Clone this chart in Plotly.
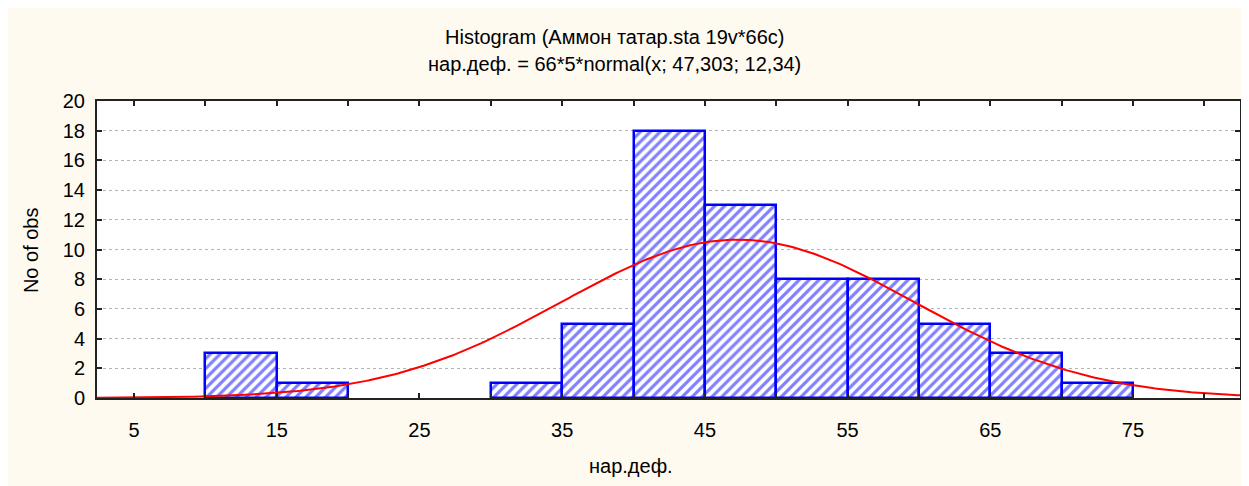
import numpy as np
import plotly.graph_objects as go

# Histogram data (bin centers, width 5)
bin_centers = [12.5, 17.5, 22.5, 27.5, 32.5, 37.5, 42.5, 47.5, 52.5, 57.5, 62.5, 67.5, 72.5]
counts = [3, 1, 0, 0, 1, 5, 18, 13, 8, 8, 5, 3, 1]

# Normal fit parameters from the title: 66*5*normal(x; 47.303; 12.34)
n_obs = 66
bin_width = 5
mu = 47.303
sigma = 12.34

x_tick_vals = [5, 10, 15, 20, 25, 30, 35, 40, 45, 50, 55, 60, 65, 70, 75, 80]
x_tick_text = ["5", "", "15", "", "25", "", "35", "", "45", "", "55", "", "65", "", "75", ""]
y_tick_vals = [0, 2, 4, 6, 8, 10, 12, 14, 16, 18, 20]

x_range = [2.4, 82.5]

xc = np.linspace(x_range[0], x_range[1], 400)
yc = n_obs * bin_width * np.exp(-0.5 * ((xc - mu) / sigma) ** 2) / (sigma * np.sqrt(2 * np.pi))

# empty bins draw nothing
bar_x = [c for c, n in zip(bin_centers, counts) if n > 0]
bar_y = [n for n in counts if n > 0]

FONT = "Liberation Sans, Arial, sans-serif"
OFF = 8  # page body margin
W, H = 1249 - OFF, 486 - OFF
ML, MR, MT, MB = 97 - OFF, 7, 101 - OFF, 88
PW = W - ML - MR
PH = H - MT - MB

# helpers converting page pixels to paper coords
def px_x(px):
    return (px - OFF - ML) / PW

def px_y(py):
    return (OFF + H - MB - py) / PH

fig = go.Figure()
fig.add_trace(go.Bar(
    x=bar_x, y=bar_y, width=bin_width,
    marker=dict(
        color="white",
        line=dict(color="#0000ff", width=2.5),
        pattern=dict(shape="/", fgcolor="#0000ff", bgcolor="white", size=7, solidity=0.45),
    ),
    showlegend=False, hoverinfo="x+y",
))
fig.add_trace(go.Scatter(
    x=xc, y=yc, mode="lines",
    line=dict(color="#ff0000", width=2),
    showlegend=False, hoverinfo="skip",
))

fig.update_layout(
    width=W, height=H,
    margin=dict(l=ML, r=MR, t=MT, b=MB),
    paper_bgcolor="#fefaf0",
    plot_bgcolor="white",
    bargap=0,
    font=dict(family=FONT, color="black", size=20),
    xaxis=dict(
        range=x_range, tickvals=x_tick_vals, ticktext=x_tick_text,
        ticks="inside", ticklen=5, tickwidth=2, tickcolor="#222",
        showline=True, linecolor="#222", linewidth=2, mirror="ticks",
        showgrid=False, zeroline=False, ticklabelstandoff=13,
        tickfont=dict(size=20),
    ),
    yaxis=dict(
        range=[0, 20], tickvals=y_tick_vals,
        ticks="inside", ticklen=5, tickwidth=2, tickcolor="#222",
        showline=True, linecolor="#222", linewidth=2, mirror="ticks",
        showgrid=True, gridcolor="#b4b4b4", gridwidth=1, griddash="dot",
        zeroline=False, ticklabelstandoff=6,
        tickfont=dict(size=20),
    ),
    annotations=[
        dict(text="Histogram (Аммон татар.sta 19v*66c)", xref="paper", yref="paper",
             x=px_x(615), y=px_y(37), xanchor="center", yanchor="middle",
             showarrow=False, font=dict(size=20)),
        dict(text="нар.деф. = 66*5*normal(x; 47,303; 12,34)", xref="paper", yref="paper",
             x=px_x(615), y=px_y(64), xanchor="center", yanchor="middle",
             showarrow=False, font=dict(size=20)),
        dict(text="нар.деф.", xref="paper", yref="paper",
             x=px_x(632), y=px_y(466), xanchor="center", yanchor="middle",
             showarrow=False, font=dict(size=20)),
        dict(text="No of obs", xref="paper", yref="paper",
             x=px_x(31), y=px_y(250), xanchor="center", yanchor="middle",
             textangle=-90, showarrow=False, font=dict(size=20)),
    ],
)

fig.write_html("out.html")
